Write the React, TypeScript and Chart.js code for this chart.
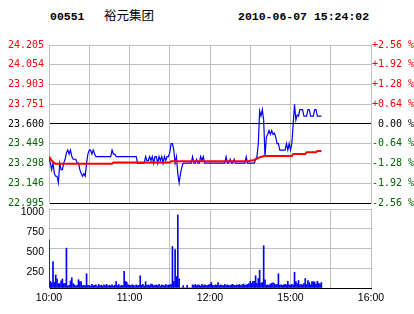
import React, { useEffect, useRef } from "react";
import { Chart, registerables } from "chart.js";

Chart.register(...registerables);

const STOCK_CODE = "00551";
const STOCK_NAME = "裕元集团";
const TIMESTAMP = "2010-06-07 15:24:02";

const PREV_CLOSE = 23.6;
const PRICE_MIN = 22.995;
const PRICE_MAX = 24.205;
const PRICE_TICKS = [22.995, 23.146, 23.298, 23.449, 23.6, 23.751, 23.903, 24.054, 24.205];
const PRICE_LABELS = ["22.995", "23.146", "23.298", "23.449", "23.600", "23.751", "23.903", "24.054", "24.205"];
const PCT_LABELS = ["-2.56 %", "-1.92 %", "-1.28 %", "-0.64 %", " 0.00 %", "+0.64 %", "+1.28 %", "+1.92 %", "+2.56 %"];

const TIME_TICKS = [0, 30, 60, 90, 120, 150, 180, 210, 240];
const TIME_LABELS = ["10:00", "", "11:00", "", "12:00", "", "15:00", "", "16:00"];

const VOLUME_TICKS = [0, 250, 500, 750, 1000];
const VOLUME_LABELS = ["", "250", "500", "750", "1000"];

// one value per trading minute, 10:00 - 12:29
const MORNING_PRICE = [
  23.35, 23.30, 23.25, 23.30, 23.22, 23.20, 23.20, 23.15, 23.30, 23.25,
  23.25, 23.30, 23.33, 23.38, 23.40, 23.37, 23.40, 23.35, 23.33, 23.33,
  23.33, 23.30, 23.30, 23.25, 23.22, 23.20, 23.22, 23.20, 23.30, 23.37,
  23.40, 23.40, 23.37, 23.40, 23.37, 23.35, 23.35, 23.35, 23.35, 23.35,
  23.35, 23.35, 23.35, 23.35, 23.35, 23.35, 23.35, 23.40, 23.37, 23.37,
  23.35, 23.35, 23.35, 23.35, 23.35, 23.35, 23.35, 23.35, 23.35, 23.35,
  23.35, 23.35, 23.35, 23.35, 23.35, 23.35, 23.30, 23.30, 23.30, 23.30,
  23.30, 23.30, 23.35, 23.32, 23.32, 23.35, 23.32, 23.35, 23.30, 23.35,
  23.35, 23.30, 23.35, 23.32, 23.35, 23.30, 23.35, 23.32, 23.35, 23.35,
  23.38, 23.45, 23.45, 23.40, 23.30, 23.35, 23.22, 23.15, 23.22, 23.27,
  23.30, 23.30, 23.30, 23.30, 23.30, 23.30, 23.30, 23.35, 23.30, 23.30,
  23.33, 23.30, 23.30, 23.35, 23.32, 23.35, 23.30, 23.30, 23.30, 23.30,
  23.30, 23.30, 23.30, 23.30, 23.30, 23.30, 23.30, 23.30, 23.30, 23.30,
  23.30, 23.30, 23.35, 23.30, 23.30, 23.33, 23.30, 23.30, 23.33, 23.30,
  23.30, 23.30, 23.30, 23.30, 23.30, 23.30, 23.30, 23.35, 23.30, 23.30,
];

// 14:30 - 15:23
const AFTERNOON_PRICE = [
  23.30, 23.30, 23.30, 23.30, 23.33, 23.35, 23.45, 23.70, 23.66, 23.71,
  23.63, 23.35, 23.50, 23.52, 23.55, 23.52, 23.55, 23.52, 23.53, 23.50,
  23.45, 23.45, 23.40, 23.40, 23.40, 23.40, 23.40, 23.45, 23.40, 23.45,
  23.40, 23.45, 23.60, 23.75, 23.63, 23.67, 23.66, 23.71, 23.71, 23.71,
  23.66, 23.66, 23.66, 23.71, 23.71, 23.66, 23.66, 23.66, 23.71, 23.71,
  23.66, 23.66, 23.66, 23.66,
];

const MORNING_AVG = [
  23.35, 23.335, 23.32, 23.31, 23.30, 23.295, 23.295, 23.295, 23.295, 23.295,
  23.295, 23.295, 23.295, 23.295, 23.295, 23.295, 23.295, 23.295, 23.295, 23.295,
  23.295, 23.295, 23.295, 23.295, 23.295, 23.295, 23.295, 23.295, 23.295, 23.295,
  23.295, 23.295, 23.295, 23.295, 23.295, 23.295, 23.295, 23.295, 23.295, 23.295,
  23.295, 23.295, 23.295, 23.295, 23.295, 23.295, 23.295, 23.295, 23.305, 23.305,
  23.305, 23.305, 23.305, 23.305, 23.305, 23.305, 23.305, 23.305, 23.305, 23.305,
  23.305, 23.305, 23.305, 23.305, 23.305, 23.305, 23.305, 23.305, 23.305, 23.305,
  23.305, 23.305, 23.305, 23.305, 23.305, 23.305, 23.305, 23.305, 23.305, 23.305,
  23.305, 23.305, 23.305, 23.305, 23.305, 23.305, 23.305, 23.305, 23.305, 23.305,
  23.305, 23.315, 23.315, 23.315, 23.315, 23.315, 23.315, 23.315, 23.315, 23.315,
  23.315, 23.315, 23.315, 23.315, 23.315, 23.315, 23.315, 23.315, 23.315, 23.315,
  23.315, 23.315, 23.315, 23.315, 23.315, 23.315, 23.315, 23.315, 23.315, 23.315,
  23.315, 23.315, 23.315, 23.315, 23.315, 23.315, 23.315, 23.315, 23.315, 23.315,
  23.315, 23.315, 23.315, 23.315, 23.315, 23.315, 23.315, 23.315, 23.315, 23.315,
  23.315, 23.315, 23.315, 23.315, 23.315, 23.315, 23.315, 23.315, 23.315, 23.315,
];

const AFTERNOON_AVG = [
  23.32, 23.32, 23.32, 23.325, 23.33, 23.335, 23.34, 23.345, 23.35, 23.35,
  23.355, 23.355, 23.355, 23.355, 23.355, 23.355, 23.355, 23.355, 23.355, 23.355,
  23.355, 23.355, 23.355, 23.355, 23.355, 23.355, 23.355, 23.355, 23.355, 23.355,
  23.355, 23.355, 23.37, 23.37, 23.37, 23.37, 23.37, 23.37, 23.37, 23.37,
  23.37, 23.37, 23.383, 23.383, 23.383, 23.383, 23.383, 23.383, 23.383, 23.383,
  23.393, 23.393, 23.393, 23.393,
];

const MORNING_VOLUME = [
  610, 85, 65, 335, 70, 165, 115, 55, 55, 90,
  115, 55, 60, 505, 25, 35, 90, 130, 55, 40,
  25, 35, 105, 80, 80, 30, 35, 30, 180, 35,
  30, 25, 45, 30, 35, 40, 20, 45, 30, 35,
  25, 40, 30, 45, 25, 35, 30, 40, 25, 35,
  80, 30, 45, 25, 35, 30, 210, 85, 70, 40,
  35, 30, 40, 35, 25, 40, 30, 35, 155, 35,
  45, 25, 80, 35, 40, 30, 50, 45, 30, 35,
  40, 30, 45, 25, 40, 35, 30, 45, 30, 40,
  35, 45, 525, 85, 485, 145, 925, 115, 0, 0,
  30, 0, 0, 35, 0, 0, 0, 40, 35, 45,
  30, 40, 35, 25, 45, 30, 40, 35, 30, 40,
  45, 70, 35, 30, 40, 35, 70, 30, 40, 35,
  30, 45, 35, 40, 30, 35, 40, 45, 35, 30,
  40, 35, 45, 30, 40, 50, 35, 40, 45, 55,
];

const AFTERNOON_VOLUME = [
  85, 60, 85, 85, 155, 60, 120, 225, 60, 70,
  535, 105, 35, 40, 35, 50, 60, 65, 55, 40,
  45, 180, 35, 40, 35, 40, 45, 40, 85, 40,
  35, 45, 40, 200, 80, 55, 95, 40, 45, 40,
  55, 120, 45, 95, 70, 40, 80, 80, 75, 45,
  85, 60, 50, 70,
];

const GRID = "#c0c0c0";
const UP = "#ff0000";
const DOWN = "#006600";
const MONO = "'DejaVu Sans Mono', monospace";
const SANS = "'Liberation Sans', Arial, sans-serif";

function tickColor(i: number) {
  if (i < 4) return DOWN;
  if (i === 4) return "#000000";
  return UP;
}

function fixWidth(w: number) {
  return (s: any) => {
    s.width = w;
    s.paddingTop = 0;
    s.paddingBottom = 0;
  };
}

export default function App() {
  const priceRef = useRef<HTMLCanvasElement>(null);
  const volRef = useRef<HTMLCanvasElement>(null);

  useEffect(() => {
    const price = [...MORNING_PRICE, ...AFTERNOON_PRICE];
    const avg = [...MORNING_AVG, ...AFTERNOON_AVG];
    const vol = [...MORNING_VOLUME, ...AFTERNOON_VOLUME];

    const c1 = new Chart(priceRef.current as HTMLCanvasElement, {
      type: "line",
      data: {
        datasets: [
          {
            data: avg.map((v, i) => ({ x: i, y: v })),
            borderColor: UP,
            borderWidth: 2,
            pointRadius: 0,
            tension: 0,
            fill: false,
          },
          {
            data: price.map((v, i) => ({ x: i, y: v })),
            borderColor: "#0000ff",
            borderWidth: 1.2,
            pointRadius: 0,
            tension: 0,
            fill: false,
          },
        ],
      },
      options: {
        responsive: false,
        animation: false,
        events: [],
        layout: { padding: { left: 0, right: 0, top: 45, bottom: 7 } },
        plugins: { legend: { display: false }, tooltip: { enabled: false } },
        scales: {
          x: {
            type: "linear",
            min: 0,
            max: 240,
            afterBuildTicks: (s: any) => {
              s.ticks = TIME_TICKS.map((v) => ({ value: v }));
            },
            afterFit: (s: any) => {
              s.height = 0;
              s.paddingLeft = 0;
              s.paddingRight = 0;
            },
            ticks: { display: false },
            grid: { color: GRID, drawTicks: false },
            border: { display: true, color: "#000000" },
          },
          y: {
            type: "linear",
            position: "left",
            min: PRICE_MIN,
            max: PRICE_MAX,
            afterBuildTicks: (s: any) => {
              s.ticks = PRICE_TICKS.map((v) => ({ value: v }));
            },
            afterFit: fixWidth(49),
            ticks: {
              autoSkip: false,
              padding: 5,
              font: { family: MONO, size: 10 },
              color: (ctx: any) => tickColor(ctx.index),
              callback: (_v: any, i: number) => PRICE_LABELS[i],
            },
            grid: {
              drawTicks: false,
              color: (ctx: any) => (ctx.index === 4 || ctx.index === 0 ? "#000000" : GRID),
            },
            border: { color: GRID },
          },
          y2: {
            type: "linear",
            position: "right",
            min: PRICE_MIN,
            max: PRICE_MAX,
            afterBuildTicks: (s: any) => {
              s.ticks = PRICE_TICKS.map((v) => ({ value: v }));
            },
            afterFit: fixWidth(43),
            ticks: {
              autoSkip: false,
              padding: 1,
              font: { family: MONO, size: 10 },
              color: (ctx: any) => tickColor(ctx.index),
              callback: (_v: any, i: number) => PCT_LABELS[i],
            },
            grid: { display: false, drawTicks: false },
            border: { color: GRID },
          },
        },
      },
    } as any);

    const c2 = new Chart(volRef.current as HTMLCanvasElement, {
      type: "bar",
      data: {
        datasets: [
          {
            data: vol.map((v, i) => ({ x: i, y: v })),
            backgroundColor: "#0000ff",
            borderWidth: 0,
            barThickness: 1,
            grouped: false,
          },
        ],
      },
      options: {
        responsive: false,
        animation: false,
        events: [],
        layout: { padding: { left: 0, right: 43, top: 4, bottom: 6 } },
        plugins: { legend: { display: false }, tooltip: { enabled: false } },
        scales: {
          x: {
            type: "linear",
            min: 0,
            max: 240,
            offset: false,
            afterBuildTicks: (s: any) => {
              s.ticks = TIME_TICKS.map((v) => ({ value: v }));
            },
            afterFit: (s: any) => {
              s.height = 20;
            },
            ticks: {
              autoSkip: false,
              maxRotation: 0,
              padding: 4,
              color: "#000000",
              font: { family: SANS, size: 10.5 },
              callback: (_v: any, i: number) => TIME_LABELS[i],
            },
            grid: { color: GRID, drawTicks: false, offset: false },
            border: { display: true, color: "#000000" },
          },
          y: {
            type: "linear",
            position: "left",
            min: 0,
            max: 1000,
            afterBuildTicks: (s: any) => {
              s.ticks = VOLUME_TICKS.map((v) => ({ value: v }));
            },
            afterFit: fixWidth(49),
            ticks: {
              autoSkip: false,
              padding: 5,
              labelOffset: 3.5,
              color: "#000000",
              font: { family: SANS, size: 10.5 },
              callback: (_v: any, i: number) => VOLUME_LABELS[i],
            },
            grid: {
              drawTicks: false,
              color: (ctx: any) => (ctx.index === 0 ? "rgba(0,0,0,0)" : GRID),
            },
            border: { color: GRID },
          },
        },
      },
    } as any);

    return () => {
      c1.destroy();
      c2.destroy();
    };
  }, []);

  const headMono: React.CSSProperties = {
    position: "absolute",
    top: 11,
    fontFamily: "'Liberation Mono', 'Courier New', monospace",
    fontWeight: "bold",
    fontSize: "11.5px",
    lineHeight: "12px",
    color: "#000",
    whiteSpace: "pre",
  };

  return (
    <div
      style={{
        position: "fixed",
        left: 0,
        top: 0,
        width: 414,
        height: 314,
        background: "#ffffff",
        overflow: "hidden",
      }}
    >
      <span style={{ ...headMono, left: 50 }}>{STOCK_CODE}</span>
      <span
        style={{
          position: "absolute",
          left: 104,
          top: 9,
          fontFamily: "'Noto Sans CJK SC', sans-serif",
          fontSize: "12.5px",
          lineHeight: "12.5px",
          color: "#000",
          whiteSpace: "pre",
        }}
      >
        {STOCK_NAME}
      </span>
      <span style={{ ...headMono, left: 238 }}>{TIMESTAMP}</span>
      <canvas
        ref={priceRef}
        width={414}
        height={210}
        style={{ position: "absolute", left: 0, top: 0, width: 414, height: 210 }}
      />
      <canvas
        ref={volRef}
        width={414}
        height={109}
        style={{ position: "absolute", left: 0, top: 205, width: 414, height: 109 }}
      />
    </div>
  );
}
